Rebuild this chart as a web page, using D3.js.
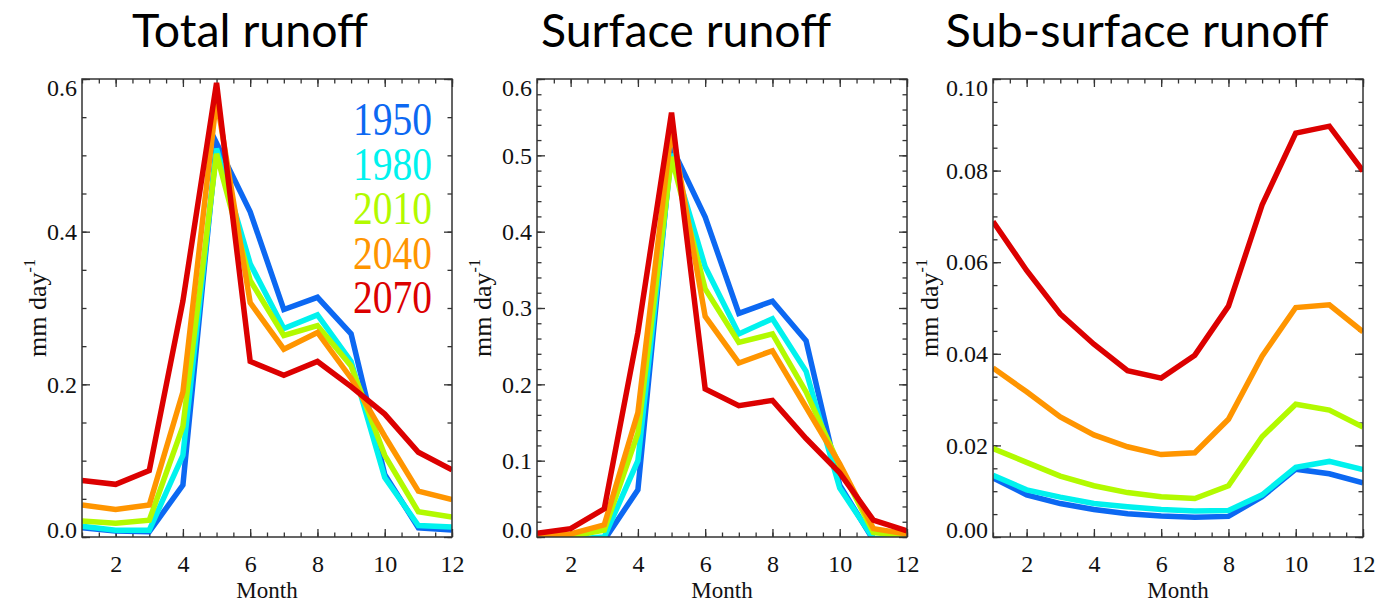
<!DOCTYPE html>
<html>
<head>
<meta charset="utf-8">
<script src="https://cdn.jsdelivr.net/npm/d3@7"></script>
<style>
body { margin: 0; background: #fff; }
.tick line { stroke: #333; stroke-width: 1.3px; }
</style>
</head>
<body>
<svg id="FigSvg" width="1388" height="603"></svg>
<script>
var months = [1, 2, 3, 4, 5, 6, 7, 8, 9, 10, 11, 12]
var years = ['1950', '1980', '2010', '2040', '2070']
var yearColors = ['#0c68f2', '#00f2ee', '#b2fa00', '#ff9500', '#dc0000']
var panelTitles = ['Total runoff', 'Surface runoff', 'Sub-surface runoff']
var xLabel = 'Month'
var yLabel = 'mm day'
var yLabelSup = '-1'

// one row per year, Jan..Dec
var totalRunoff = [
    [0.012, 0.008, 0.007, 0.068, 0.516, 0.426, 0.298, 0.314, 0.266, 0.082, 0.012, 0.009],
    [0.014, 0.009, 0.009, 0.107, 0.509, 0.358, 0.273, 0.291, 0.230, 0.078, 0.015, 0.013],
    [0.021, 0.018, 0.022, 0.145, 0.502, 0.336, 0.264, 0.277, 0.224, 0.107, 0.033, 0.026],
    [0.042, 0.036, 0.042, 0.190, 0.574, 0.307, 0.246, 0.268, 0.208, 0.132, 0.060, 0.049],
    [0.074, 0.069, 0.087, 0.309, 0.595, 0.230, 0.212, 0.230, 0.197, 0.161, 0.111, 0.088]
]
var surfaceRunoff = [
    [-0.005, -0.005, -0.004, 0.062, 0.511, 0.419, 0.293, 0.309, 0.257, 0.068, -0.004, -0.004],
    [-0.002, -0.003, 0.000, 0.100, 0.502, 0.354, 0.266, 0.286, 0.217, 0.064, -0.002, -0.002],
    [0.001, 0.001, 0.009, 0.136, 0.498, 0.325, 0.255, 0.266, 0.190, 0.093, 0.006, 0.001],
    [0.003, 0.004, 0.016, 0.163, 0.536, 0.289, 0.228, 0.244, 0.170, 0.096, 0.011, 0.004],
    [0.005, 0.011, 0.037, 0.268, 0.556, 0.194, 0.172, 0.179, 0.129, 0.084, 0.022, 0.008]
]
var subsurfaceRunoff = [
    [0.0129, 0.0092, 0.0073, 0.0060, 0.0051, 0.0046, 0.0043, 0.0045, 0.0088, 0.0148, 0.0138, 0.0118],
    [0.0135, 0.0103, 0.0087, 0.0073, 0.0066, 0.0060, 0.0057, 0.0058, 0.0092, 0.0152, 0.0165, 0.0147],
    [0.0193, 0.0163, 0.0133, 0.0112, 0.0097, 0.0088, 0.0084, 0.0112, 0.0219, 0.0290, 0.0277, 0.0240],
    [0.0369, 0.0317, 0.0262, 0.0223, 0.0197, 0.0180, 0.0184, 0.0257, 0.0395, 0.0501, 0.0507, 0.0448],
    [0.0689, 0.0582, 0.0487, 0.0421, 0.0363, 0.0347, 0.0397, 0.0504, 0.0725, 0.0882, 0.0897, 0.0799]
]
var panelData = [totalRunoff, surfaceRunoff, subsurfaceRunoff]
var yMax = [0.6, 0.6, 0.10]
var yMajorStep = [0.2, 0.1, 0.02]
var yMinorStep = [0.05, 0.02, 0.005]
var yFormat = ['.1f', '.1f', '.2f']
var xMajorTicks = [2, 4, 6, 8, 10, 12]

var FigSvg = d3.select("#FigSvg")
var PlotTop = 79, PlotBottom = 537, PlotW = 370
var PanelLeft = [82, 537, 993]
var TitleX = [250, 686, 1137], TitleLen = [236, 290, 383]
var YLabX = [46, 491, 938]
var SerifFont = '"Liberation Serif", "Times New Roman", serif'

function stepRange(max, step) {
    var n = Math.round(max / step)
    return d3.range(n + 1).map(function (i) { return +(i * step).toFixed(4) })
}

for (var p = 0; p < 3; p++) {
    var left = PanelLeft[p]
    var xs = d3.scaleLinear().domain([1, 12]).range([left, left + PlotW])
    var ys = d3.scaleLinear().domain([0, yMax[p]]).range([PlotBottom, PlotTop])
    var g = FigSvg.append('g')

    // minor ticks on all four sides
    var xMinor = d3.range(1, 12.01, 0.5)
    var yMinor = stepRange(yMax[p], yMinorStep[p])
    g.append('g').attr('transform', `translate(0,${PlotBottom})`)
        .call(d3.axisBottom(xs).tickValues(xMinor).tickSize(-4.5).tickFormat(''))
    g.append('g').attr('transform', `translate(0,${PlotTop})`)
        .call(d3.axisTop(xs).tickValues(xMinor).tickSize(-4.5).tickFormat(''))
    g.append('g').attr('transform', `translate(${left},0)`)
        .call(d3.axisLeft(ys).tickValues(yMinor).tickSize(-4.5).tickFormat(''))
    g.append('g').attr('transform', `translate(${left + PlotW},0)`)
        .call(d3.axisRight(ys).tickValues(yMinor).tickSize(-4.5).tickFormat(''))

    // major ticks + labels
    var yMajor = stepRange(yMax[p], yMajorStep[p])
    var gx = g.append('g').attr('transform', `translate(0,${PlotBottom})`)
        .call(d3.axisBottom(xs).tickValues(xMajorTicks).tickSize(-8).tickPadding(18).tickFormat(d3.format('d')))
    g.append('g').attr('transform', `translate(0,${PlotTop})`)
        .call(d3.axisTop(xs).tickValues(xMajorTicks).tickSize(-8).tickFormat(''))
    var gy = g.append('g').attr('transform', `translate(${left},0)`)
        .call(d3.axisLeft(ys).tickValues(yMajor).tickSize(-8).tickPadding(5).tickFormat(d3.format(yFormat[p])))
    g.append('g').attr('transform', `translate(${left + PlotW},0)`)
        .call(d3.axisRight(ys).tickValues(yMajor).tickSize(-8).tickFormat(''))
    g.selectAll('.domain').remove()
    gx.selectAll('.tick text').style('font-family', SerifFont).style('font-size', '24px').style('fill', '#111')
    gy.selectAll('.tick text').style('font-family', SerifFont).style('font-size', '24px').style('fill', '#111')

    // end labels are pushed inside the frame
    var ylabs = gy.selectAll('.tick text')
    ylabs.filter(function (d) { return d === 0 }).attr('y', -7)
    ylabs.filter(function (d) { return d === yMax[p] }).attr('y', 9)

    // series
    var clipId = 'clip' + p
    g.append('clipPath').attr('id', clipId).append('rect')
        .attr('x', left).attr('y', PlotTop).attr('width', PlotW).attr('height', PlotBottom - PlotTop)
    var line = d3.line().x(function (d, i) { return xs(months[i]) }).y(function (d) { return ys(d) })
    for (var s = 0; s < years.length; s++) {
        g.append('path')
            .attr('clip-path', `url(#${clipId})`)
            .attr('d', line(panelData[p][s]))
            .attr('fill', 'none')
            .attr('stroke', yearColors[s])
            .attr('stroke-width', 5.5)
            .attr('stroke-linejoin', 'miter')
    }

    g.append('rect')
        .attr('x', left).attr('y', PlotTop).attr('width', PlotW).attr('height', PlotBottom - PlotTop)
        .attr('fill', 'none').attr('stroke', '#333').attr('stroke-width', 1.5)

    // titles and axis labels
    FigSvg.append('text')
        .attr('x', TitleX[p]).attr('y', 47)
        .attr('text-anchor', 'middle')
        .attr('textLength', TitleLen[p]).attr('lengthAdjust', 'spacingAndGlyphs')
        .style('font-family', 'Lato, "Noto Sans", sans-serif').style('font-size', '47px').style('fill', '#000')
        .text(panelTitles[p])
    FigSvg.append('text')
        .attr('x', left + PlotW / 2).attr('y', 598)
        .attr('text-anchor', 'middle')
        .style('font-family', SerifFont).style('font-size', '23px').style('fill', '#111')
        .text(xLabel)
    var yl = FigSvg.append('text')
        .attr('transform', `translate(${YLabX[p]},${(PlotTop + PlotBottom) / 2}) rotate(-90)`)
        .attr('text-anchor', 'middle')
        .style('font-family', SerifFont).style('font-size', '26px').style('fill', '#111')
    yl.append('tspan').text(yLabel)
    yl.append('tspan').attr('dy', -11).style('font-size', '16px').text(yLabelSup)
}

// legend on the first panel
for (var i = 0; i < years.length; i++) {
    FigSvg.append('text')
        .attr('x', 432).attr('y', 135 + i * 44.5)
        .attr('text-anchor', 'end')
        .attr('textLength', 79).attr('lengthAdjust', 'spacingAndGlyphs')
        .style('font-family', SerifFont).style('font-size', '46px')
        .style('fill', yearColors[i])
        .text(years[i])
}
</script>
</body>
</html>
